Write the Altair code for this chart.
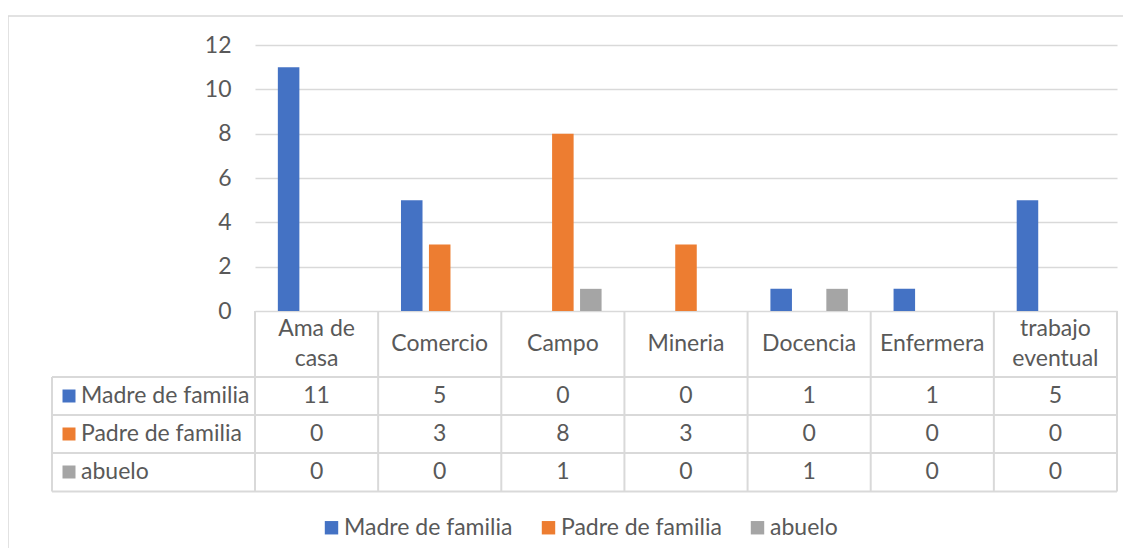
import altair as alt
import pandas as pd

categories = ["Ama de casa", "Comercio", "Campo", "Mineria", "Docencia", "Enfermera", "trabajo eventual"]
header_labels = ["Ama de\ncasa", "Comercio", "Campo", "Mineria", "Docencia", "Enfermera", "trabajo\neventual"]
series = ["Madre de familia", "Padre de familia", "abuelo"]
madre = [11, 5, 0, 0, 1, 1, 5]
padre = [0, 3, 8, 3, 0, 0, 0]
abuelo = [0, 0, 1, 0, 1, 0, 0]
colors = ["#4472C4", "#ED7D31", "#A5A5A5"]

W, H = 862, 266
FONT = "Lato"
FS = 23
TXT = "#595959"
GRID = "#D9D9D9"

rows = []
for s, vals in zip(series, [madre, padre, abuelo]):
    for c, v in zip(categories, vals):
        rows.append({"cat": c, "series": s, "value": v})
df = pd.DataFrame(rows)
hdr = pd.DataFrame({"cat": categories, "label": header_labels})
hdr["two"] = hdr["label"].str.contains("\n")
ser = pd.DataFrame({"series": series})

# table geometry (layout only)
row_lines = [332, 370, 408, 446.5]
left_x = -203
lines = []
for k in range(len(categories) + 1):
    xk = k * W / len(categories)
    lines.append({"x": xk, "x2": xk, "y": H, "y2": 446.5})
lines.append({"x": left_x, "x2": left_x, "y": 332, "y2": 446.5})
for yy in row_lines:
    lines.append({"x": left_x, "x2": W, "y": yy, "y2": yy})
lines_df = pd.DataFrame(lines)


def x_band():
    return alt.X("cat:N", sort=categories,
                 scale=alt.Scale(domain=categories, paddingInner=0, paddingOuter=0),
                 axis=None)


def row_y():
    return alt.Y("series:N",
                 scale=alt.Scale(type="point", domain=series, range=[351, 427], padding=0),
                 axis=None)


color_scale = alt.Scale(domain=series, range=colors)

border = alt.Chart(pd.DataFrame({"a": [0]})).mark_rect(
    fillOpacity=0, stroke=GRID, strokeWidth=1.5
).encode(
    x=alt.value(-247), x2=alt.value(900), y=alt.value(-29), y2=alt.value(700)
)

rules = alt.Chart(lines_df).mark_rule(color=GRID, strokeWidth=2).encode(
    x=alt.X("x:Q", scale=None, axis=None),
    x2="x2:Q",
    y=alt.Y("y:Q", scale=None, axis=None),
    y2="y2:Q",
)

bars = alt.Chart(df).mark_bar().encode(
    x=x_band(),
    xOffset=alt.XOffset("series:N", sort=series,
                        scale=alt.Scale(domain=series, paddingInner=0.23, paddingOuter=0.817)),
    y=alt.Y("value:Q", scale=alt.Scale(domain=[0, 12], nice=False),
            axis=alt.Axis(values=list(range(0, 13, 2)), title=None, domain=False, ticks=False,
                          labelPadding=24, labelFontSize=FS, labelColor=TXT, labelFont=FONT,
                          gridColor=GRID, gridWidth=1.5)),
    color=alt.Color("series:N", scale=color_scale,
                    legend=alt.Legend(orient="none", legendX=65, legendY=471, direction="horizontal",
                                      title=None, symbolType="square", symbolSize=180,
                                      symbolStrokeWidth=0, labelFont=FONT, labelFontSize=FS,
                                      labelColor=TXT, labelOffset=1, columnPadding=24,
                                      labelLimit=400, padding=0)),
)

header1 = alt.Chart(hdr[~hdr["two"]]).mark_text(
    font=FONT, fontSize=FS, color=TXT, align="center", baseline="middle"
).encode(x=x_band(), y=alt.value(299), text="label:N")

header2 = alt.Chart(hdr[hdr["two"]]).mark_text(
    font=FONT, fontSize=FS, color=TXT, lineBreak="\n", lineHeight=30,
    align="center", baseline="middle"
).encode(x=x_band(), y=alt.value(284), text="label:N")

numbers = alt.Chart(df).mark_text(
    font=FONT, fontSize=FS, color=TXT, align="center", baseline="middle"
).encode(x=x_band(), y=row_y(), text="value:Q")

squares = alt.Chart(ser).mark_square(size=169, opacity=1, strokeWidth=0).encode(
    x=alt.value(-186), y=row_y(),
    fill=alt.Fill("series:N", scale=color_scale, legend=None),
)

labels = alt.Chart(ser).mark_text(
    font=FONT, fontSize=FS, color=TXT, align="left", baseline="middle"
).encode(x=alt.value(-174), y=row_y(), text="series:N")

chart = alt.layer(border, rules, bars, header1, header2, numbers, squares, labels).resolve_scale(
    x="independent", y="independent"
).properties(
    width=W, height=H,
    autosize=alt.AutoSizeParams(type="none"),
    padding={"left": 247, "top": 37, "right": 6, "bottom": 237},
    background="white",
).configure_view(stroke=None)

chart.save("out.html", embed_options={"renderer": "svg", "actions": False})
